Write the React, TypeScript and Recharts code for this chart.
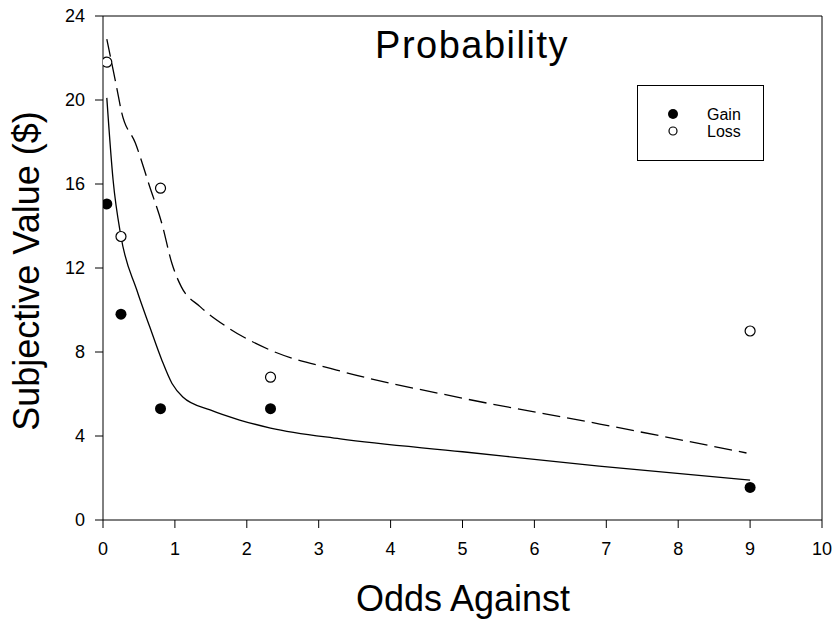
import {
  ComposedChart,
  Line,
  Scatter,
  XAxis,
  YAxis,
  ReferenceLine,
} from "recharts";

// odds against (x) for the five probabilities
const oddsAgainst = [0.053, 0.25, 0.8, 2.33, 9];
const gainValues = [15.05, 9.8, 5.3, 5.3, 1.55];
const lossValues = [21.8, 13.5, 15.8, 6.8, 9.0];

// fitted curves
const gainFitX = [0.053, 0.14, 0.25, 0.47, 0.65, 0.82, 0.96, 1.11, 1.49, 1.9, 2.33, 3.3, 5.0, 6.9, 9.0];
const gainFitY = [20.1, 16.2, 13.5, 10.95, 9.2, 7.6, 6.5, 5.86, 5.24, 4.76, 4.38, 3.86, 3.25, 2.57, 1.9];
const lossFitX = [0.053, 0.19, 0.26, 0.45, 0.65, 0.82, 0.96, 1.09, 1.35, 1.72, 2.32, 3.25, 5.0, 6.91, 8.95];
const lossFitY = [22.9, 20.6, 19.4, 17.95, 15.87, 14.1, 12.2, 11.1, 10.16, 9.2, 8.1, 7.14, 5.8, 4.57, 3.19];

const xTicks = [0, 1, 2, 3, 4, 5, 6, 7, 8, 9, 10];
const yTicks = [0, 4, 8, 12, 16, 20, 24];

const gainPoints = oddsAgainst.map((x, i) => ({ x, y: gainValues[i] }));
const lossPoints = oddsAgainst.map((x, i) => ({ x, y: lossValues[i] }));
const gainFit = gainFitX.map((x, i) => ({ x, y: gainFitY[i] }));
const lossFit = lossFitX.map((x, i) => ({ x, y: lossFitY[i] }));

const font = "'Liberation Sans', Arial, sans-serif";
const tickStyle = { fontSize: 18, fill: "#000", fontFamily: font };

const FilledDot = (props: any) => (
  <circle cx={props.cx} cy={props.cy} r={5.5} fill="#000" />
);
const OpenDot = (props: any) => (
  <circle cx={props.cx} cy={props.cy} r={5} fill="#fff" stroke="#000" strokeWidth={1.2} />
);

export default function App() {
  return (
    <div
      style={{
        position: "absolute",
        left: 0,
        top: 0,
        width: 835,
        height: 620,
        background: "#fff",
        fontFamily: font,
      }}
    >
      <ComposedChart
        width={835}
        height={620}
        margin={{ top: 16, right: 13, left: 0, bottom: 0 }}
      >
        <XAxis
          type="number"
          dataKey="x"
          domain={[0, 10]}
          ticks={xTicks}
          allowDataOverflow
          height={100}
          tickSize={8}
          tickMargin={14}
          tick={tickStyle}
          stroke="#000"
        />
        <YAxis
          type="number"
          dataKey="y"
          domain={[0, 24]}
          ticks={yTicks}
          allowDataOverflow
          width={103}
          tickSize={8}
          tickMargin={10}
          tick={tickStyle}
          stroke="#000"
        />
        <ReferenceLine y={24} stroke="#000" />
        <ReferenceLine x={10} stroke="#000" />
        <Line
          data={gainFit}
          dataKey="y"
          type="monotone"
          stroke="#000"
          strokeWidth={1.3}
          dot={false}
          isAnimationActive={false}
        />
        <Line
          data={lossFit}
          dataKey="y"
          type="monotone"
          stroke="#000"
          strokeWidth={1.3}
          strokeDasharray="18 7"
          dot={false}
          isAnimationActive={false}
        />
        <Scatter data={gainPoints} shape={FilledDot} isAnimationActive={false} />
        <Scatter data={lossPoints} shape={OpenDot} isAnimationActive={false} />
      </ComposedChart>

      {/* title */}
      <div
        style={{
          position: "absolute",
          left: 272,
          top: 26,
          width: 400,
          textAlign: "center",
          fontSize: 38,
          lineHeight: "38px",
          letterSpacing: 1.5,
        }}
      >
        Probability
      </div>

      {/* x axis title */}
      <div
        style={{
          position: "absolute",
          left: 263,
          top: 581,
          width: 400,
          textAlign: "center",
          fontSize: 36,
          lineHeight: "36px",
        }}
      >
        Odds Against
      </div>

      {/* y axis title */}
      <div
        style={{
          position: "absolute",
          left: 27 - 200,
          top: 271 - 18,
          width: 400,
          height: 36,
          textAlign: "center",
          fontSize: 36,
          lineHeight: "36px",
          transform: "rotate(-90deg)",
          whiteSpace: "nowrap",
        }}
      >
        Subjective Value ($)
      </div>

      {/* legend */}
      <div
        style={{
          position: "absolute",
          left: 637,
          top: 85,
          width: 125,
          height: 74,
          border: "1px solid #000",
          fontSize: 16,
        }}
      >
        <svg width={125} height={74} style={{ position: "absolute", left: 0, top: 0 }}>
          <circle cx={35} cy={28} r={5} fill="#000" />
          <circle cx={35} cy={45} r={4} fill="#fff" stroke="#000" strokeWidth={1.2} />
          <text x={69} y={34} fontSize={16} fontFamily={font} fill="#000">
            Gain
          </text>
          <text x={69} y={51} fontSize={16} fontFamily={font} fill="#000">
            Loss
          </text>
        </svg>
      </div>
    </div>
  );
}
